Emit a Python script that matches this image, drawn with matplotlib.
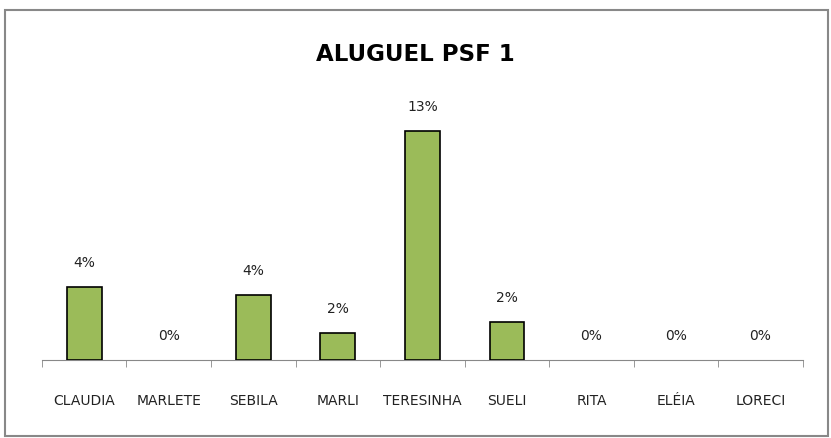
import numpy as np
import matplotlib.pyplot as plt
from matplotlib.patches import Rectangle

nomes = ['CLAUDIA', 'MARLETE', 'SEBILA', 'MARLI', 'TERESINHA', 'SUELI', 'RITA', 'ELÉIA', 'LORECI']
valores = [4.15, 0, 3.7, 1.55, 13.0, 2.15, 0, 0, 0]
rotulos = ['4%', '0%', '4%', '2%', '13%', '2%', '0%', '0%', '0%']

fig = plt.figure(figsize=(8.31, 4.39), dpi=100)
fig.patches.append(Rectangle((0.006, 0.005), 0.99, 0.97, transform=fig.transFigure,
                             fill=False, edgecolor='#888888', linewidth=1.5))

ax = fig.add_axes([0.0505, 0.1777, 0.9155, 0.562])
x = np.arange(len(nomes))
larg = [1.2 if v > 0 else 0 for v in valores]
ax.bar(x, valores, width=0.41, color='#9BBB59', edgecolor='black', linewidth=larg, zorder=3)

for xi, v, r in zip(x, valores, rotulos):
    ax.annotate(r, (xi, v), xytext=(0, 13), textcoords='offset points',
                ha='center', va='bottom', fontsize=10, color='#222222')

ax.set_xlim(-0.5, len(nomes) - 0.5)
ax.set_ylim(0, 14)
ax.set_yticks([])
for s in ['top', 'right', 'left']:
    ax.spines[s].set_visible(False)
ax.spines['bottom'].set_color('#888888')
ax.set_xticks(x)
ax.set_xticklabels(nomes, fontsize=10, color='#222222')
ax.tick_params(axis='x', length=0, pad=24)
ax.set_xticks(np.arange(len(nomes) + 1) - 0.5, minor=True)
ax.tick_params(axis='x', which='minor', length=5, color='#888888')

fig.text(0.5, 0.875, 'ALUGUEL PSF 1', ha='center', va='center',
         fontsize=16.5, fontweight='bold')

plt.savefig('out.png', dpi=100)
